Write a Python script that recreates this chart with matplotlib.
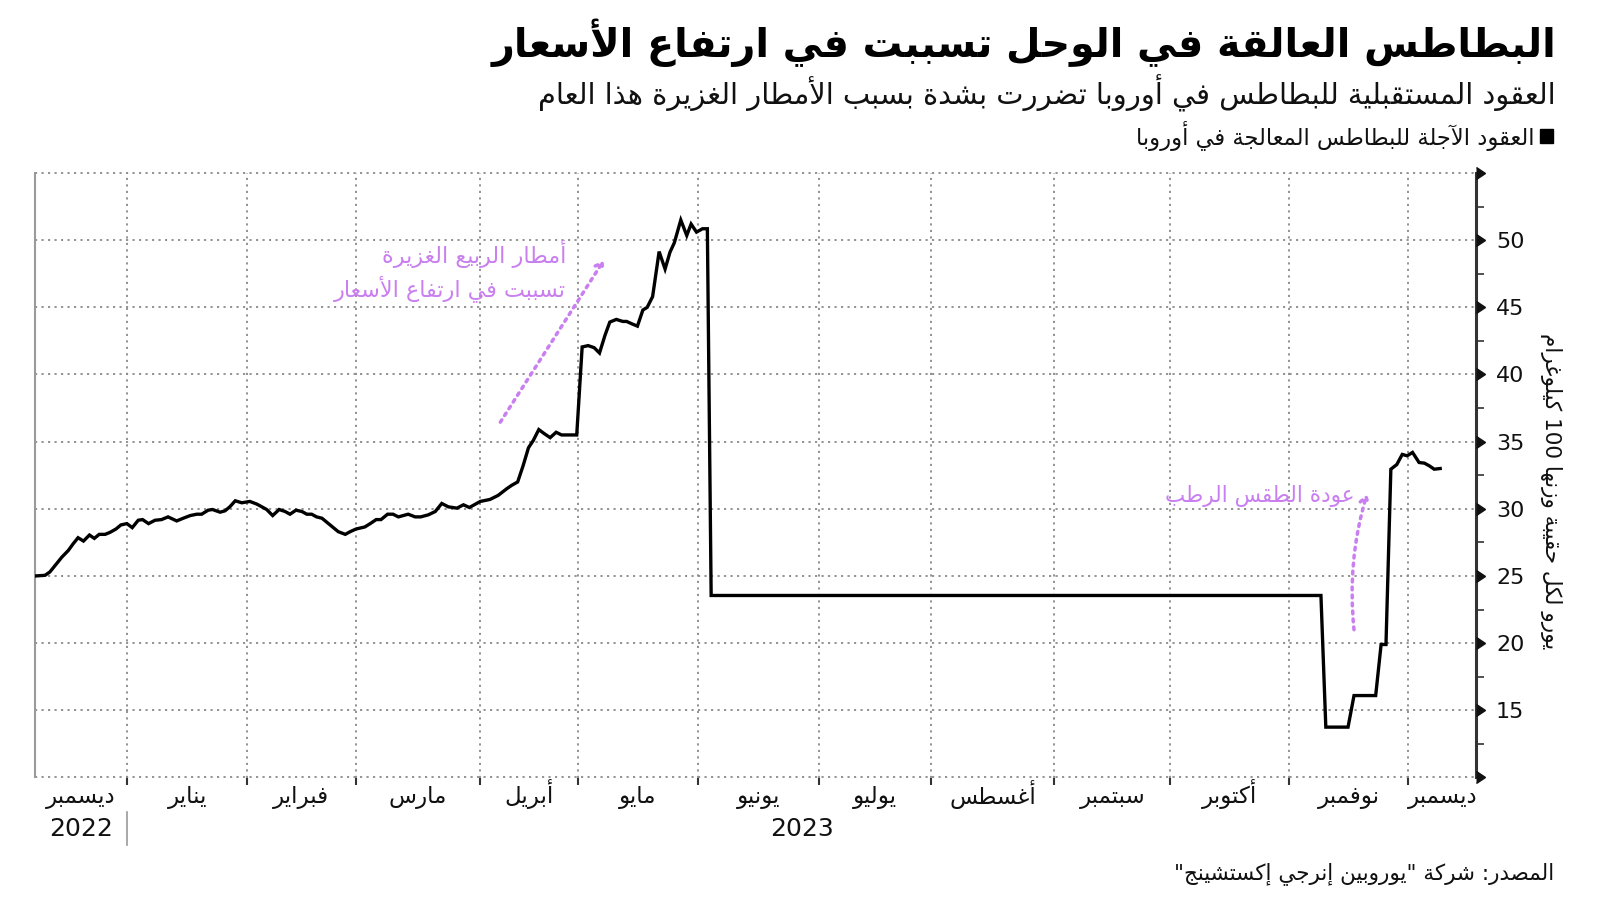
import re
import numpy as np
import matplotlib
matplotlib.use("Agg")
import matplotlib.pyplot as plt
from matplotlib import transforms

# ---------------- data (x = trading-day position from first observation) ----------------
day_pos = [0.0, 1.9, 2.8, 3.7, 5.0, 6.2, 7.1, 8.0, 9.0, 10.1, 11.0, 11.9, 13.0, 13.9, 15.0,
           15.9, 17.0, 18.0, 19.1, 19.9, 21.0, 22.2, 23.4, 24.6, 26.2, 27.4, 28.7, 29.9,
           30.8, 32.0, 32.8, 34.2, 35.1, 36.0, 37.0, 38.2, 39.7,
           41.0, 42.8, 43.9, 45.1, 46.2, 47.1, 48.2, 49.3, 50.2, 51.1, 52.0, 53.0, 54.5,
           56.0, 57.3, 58.2, 59.3, 60.9, 61.9, 63.0, 63.9, 65.1, 66.1, 67.1, 68.9, 70.2,
           71.2, 72.6, 73.9, 75.1, 76.3, 77.9, 79.1, 80.2, 82.2, 84.0,
           85.5, 87.1, 88.0, 89.1, 90.1, 91.1, 92.0, 93.0, 94.0, 95.1, 96.2, 97.2, 100.0,
           101.0, 102.1, 103.2, 104.2, 105.2, 106.1, 107.3, 108.5, 109.2, 110.3, 111.2,
           112.2, 113.0, 114.0, 115.2, 116.3, 117.2, 118.0, 119.2, 120.3, 121.1, 122.1,
           123.2, 124.1, 124.8,
           237.3, 238.2, 242.3, 243.4, 247.4, 248.4, 249.3, 250.2, 251.3, 252.3, 253.2,
           254.2, 255.4, 256.4, 257.3, 258.2, 259.3]
price = [25.0, 25.05, 25.3, 25.75, 26.4, 26.9, 27.4, 27.85, 27.6, 28.05, 27.8, 28.1, 28.1, 28.25, 28.5,
         28.8, 28.9, 28.6, 29.15, 29.2, 28.9, 29.15, 29.2, 29.4, 29.1, 29.3, 29.5, 29.6,
         29.6, 29.9, 29.95, 29.75, 29.85, 30.15, 30.6, 30.45, 30.55,
         30.35, 29.95, 29.5, 29.95, 29.8, 29.6, 29.9, 29.8, 29.6, 29.6, 29.4, 29.3, 28.8,
         28.3, 28.1, 28.3, 28.5, 28.65, 28.9, 29.2, 29.2, 29.6, 29.6, 29.4, 29.6, 29.4,
         29.4, 29.55, 29.8, 30.4, 30.15, 30.05, 30.3, 30.1, 30.55, 30.7,
         31.0, 31.5, 31.75, 32.0, 33.2, 34.55, 35.1, 35.9, 35.6, 35.3, 35.7, 35.5, 35.5,
         42.05, 42.15, 42.0, 41.6, 42.9, 43.9, 44.1, 43.95, 43.95, 43.75, 43.6,
         44.8, 45.0, 45.8, 49.15, 47.85, 49.1, 49.8, 51.5, 50.35, 51.2, 50.6,
         50.85, 50.85, 23.55,
         23.55, 13.75, 13.75, 16.1, 16.1, 19.9, 19.9, 32.95, 33.3, 34.05, 33.95,
         34.2, 33.45, 33.4, 33.2, 32.95, 33.0]

month_starts = [17.1, 39.2, 59.2, 82.1, 100.3, 122.3, 144.7, 165.3, 188.1, 209.5, 231.4, 253.4]
x_end = 266.0
month_names = ["ديسمبر", "يناير", "فبراير", "مارس", "أبريل", "مايو", "يونيو",
               "يوليو", "أغسطس", "سبتمبر", "أكتوبر", "نوفمبر", "ديسمبر"]
y_major = [10, 15, 20, 25, 30, 35, 40, 45, 50, 55]
y_labeled = [15, 20, 25, 30, 35, 40, 45, 50]
y_minor = [12.5, 17.5, 22.5, 27.5, 32.5, 37.5, 42.5, 47.5, 52.5]

title = "البطاطس العالقة في الوحل تسببت في ارتفاع الأسعار"
subtitle = "العقود المستقبلية للبطاطس في أوروبا تضررت بشدة بسبب الأمطار الغزيرة هذا العام"
legend_label = "العقود الآجلة للبطاطس المعالجة في أوروبا"
y_title = "يورو لكل حقيبة وزنها 100 كيلوغرام"
note1_lines = ["أمطار الربيع الغزيرة", "تسببت في ارتفاع الأسعار"]
note2 = "عودة الطقس الرطب"
source = 'المصدر: شركة "يوروبين إنرجي إكستشينج"'

# ---------------- minimal Arabic shaping + visual ordering ----------------
_TABLE = [('\u0621', 0xFE80, 1), ('\u0622', 0xFE81, 2), ('\u0623', 0xFE83, 2), ('\u0624', 0xFE85, 2),
          ('\u0625', 0xFE87, 2), ('\u0626', 0xFE89, 4), ('\u0627', 0xFE8D, 2), ('\u0628', 0xFE8F, 4),
          ('\u0629', 0xFE93, 2), ('\u062A', 0xFE95, 4), ('\u062B', 0xFE99, 4), ('\u062C', 0xFE9D, 4),
          ('\u062D', 0xFEA1, 4), ('\u062E', 0xFEA5, 4), ('\u062F', 0xFEA9, 2), ('\u0630', 0xFEAB, 2),
          ('\u0631', 0xFEAD, 2), ('\u0632', 0xFEAF, 2), ('\u0633', 0xFEB1, 4), ('\u0634', 0xFEB5, 4),
          ('\u0635', 0xFEB9, 4), ('\u0636', 0xFEBD, 4), ('\u0637', 0xFEC1, 4), ('\u0638', 0xFEC5, 4),
          ('\u0639', 0xFEC9, 4), ('\u063A', 0xFECD, 4), ('\u0641', 0xFED1, 4), ('\u0642', 0xFED5, 4),
          ('\u0643', 0xFED9, 4), ('\u0644', 0xFEDD, 4), ('\u0645', 0xFEE1, 4), ('\u0646', 0xFEE5, 4),
          ('\u0647', 0xFEE9, 4), ('\u0648', 0xFEED, 2), ('\u0649', 0xFEEF, 2), ('\u064A', 0xFEF1, 4)]
FORMS = {c: (b, n) for c, b, n in _TABLE}
LAMALEF = {'\u0622': 0xFEF5, '\u0623': 0xFEF7, '\u0625': 0xFEF9, '\u0627': 0xFEFB}


def shape(s):
    units = []
    i = 0
    while i < len(s):
        c = s[i]
        if c == '\u0644' and i + 1 < len(s) and s[i + 1] in LAMALEF:
            units.append((LAMALEF[s[i + 1]], 2))
            i += 2
        elif c in FORMS:
            units.append(FORMS[c])
            i += 1
        else:
            units.append((c, 0))
            i += 1
    out = []
    for k, (base, n) in enumerate(units):
        if n == 0:
            out.append(base)
            continue
        if n == 1:
            out.append(chr(base))
            continue
        pj = k > 0 and units[k - 1][1] == 4
        nj = n == 4 and k + 1 < len(units) and units[k + 1][1] >= 2
        if pj and nj:
            idx = 3
        elif pj:
            idx = 1
        elif nj:
            idx = 2
        else:
            idx = 0
        out.append(chr(base + idx))
    return ''.join(out)


def ar(s):
    sh = shape(s)
    tokens = re.findall(r'[0-9A-Za-z]+|[^0-9A-Za-z]+', sh)
    res = []
    for t in reversed(tokens):
        if re.match(r'[0-9A-Za-z]', t):
            res.append(t)
        else:
            res.append(t[::-1])
    return ''.join(res)


# ---------------- figure ----------------
AR_FONT = ['DejaVu Sans']
plt.rcParams['font.family'] = ['DejaVu Sans']
PURPLE = '#c97ff0'
GRID = '#8a8a8a'

fig = plt.figure(figsize=(16, 9.01), dpi=100)
ax = fig.add_axes([34.7 / 1600, 1 - 777.5 / 901, (1476.5 - 34.7) / 1600, (777.5 - 173) / 901])

ax.plot(day_pos, price, color='black', lw=2.4, solid_joinstyle='miter', zorder=3)

ax.set_xlim(0, x_end)
ax.set_ylim(10, 55)

# grid
for yv in y_major:
    ax.axhline(yv, color=GRID, lw=1.3, ls=(0, (1.2, 2.4)), zorder=1, clip_on=False)
for xv in month_starts:
    ax.axvline(xv, color=GRID, lw=1.3, ls=(0, (1.2, 2.4)), zorder=1)

# spines
for s in ['top', 'bottom']:
    ax.spines[s].set_visible(False)
ax.spines['left'].set_color('#9a9a9a')
ax.spines['left'].set_linewidth(1.5)
ax.spines['right'].set_color('#333333')
ax.spines['right'].set_linewidth(2.2)

# y axis on right
ax.yaxis.tick_right()
ax.set_yticks(y_major)
ax.set_yticklabels([str(v) if v in y_labeled else '' for v in y_major])
ax.set_yticks(y_minor, minor=True)
ax.tick_params(axis='y', which='major', length=0, pad=14, labelsize=16, labelcolor='#111111')
ax.tick_params(axis='y', which='minor', length=6, width=1.2, color='#333333')
ytr = transforms.blended_transform_factory(ax.transAxes, ax.transData)
ax.plot([1.0] * len(y_major), y_major, ls='none', marker=9, markersize=9,
        color='#111111', transform=ytr, clip_on=False, zorder=5)

# x axis: month boundaries as major ticks, names at month centres
edges = [0.0] + month_starts + [x_end]
centres = [(a + b) / 2 for a, b in zip(edges[:-1], edges[1:])]
ax.set_xticks(month_starts)
ax.set_xticklabels([''] * len(month_starts))
ax.tick_params(axis='x', which='major', length=5, width=1.5, color='#333333', direction='out')
xtr = transforms.blended_transform_factory(ax.transData, ax.transAxes)
for c, m in zip(centres, month_names):
    ax.text(c, -0.043, ar(m), transform=xtr, ha='center', va='baseline', fontsize=16.5,
            family=AR_FONT, color='#111111')

ax.text(centres[0], -0.085, '2022', transform=xtr, ha='center', va='center', fontsize=18, color='#111111')
ax.text((month_starts[0] + x_end) / 2, -0.085, '2023', transform=xtr, ha='center', va='center',
        fontsize=18, color='#111111')
ax.plot([month_starts[0], month_starts[0]], [-0.057, -0.112], color='#9a9a9a', lw=1.2,
        transform=xtr, clip_on=False)

# annotations
DOTS = (0, (0.8, 1.5))
ax.text(98.0, 47.7, ar(note1_lines[0]) + '\n' + ar(note1_lines[1]), ha='right', va='center',
        fontsize=16, color=PURPLE, family=AR_FONT, linespacing=1.3, multialignment='right')
ax.annotate('', xy=(105.0, 48.5), xytext=(85.9, 36.45),
            arrowprops=dict(arrowstyle='->,head_length=0.45,head_width=0.3', color=PURPLE,
                            lw=2.5, ls=DOTS, shrinkA=0, shrinkB=0))
ax.text(243.4, 30.94, ar(note2), ha='right', va='center', fontsize=15.5, color=PURPLE, family=AR_FONT)
ax.annotate('', xy=(245.8, 31.1), xytext=(243.4, 21.0),
            arrowprops=dict(arrowstyle='->,head_length=0.45,head_width=0.3', color=PURPLE,
                            lw=2.5, ls=DOTS, shrinkA=0, shrinkB=0,
                            connectionstyle='arc3,rad=-0.1'))

# titles / legend / source
fig.text(1556 / 1600, 1 - 43 / 901, ar(title), ha='right', va='center', fontsize=28.5,
         fontweight='bold', family=AR_FONT, color='black')
fig.text(1556 / 1600, 1 - 93 / 901, ar(subtitle), ha='right', va='center', fontsize=20.8,
         family=AR_FONT, color='#111111')
fig.text(1534 / 1600, 1 - 136 / 901, ar(legend_label), ha='right', va='center', fontsize=16.3,
         family=AR_FONT, color='#111111')
fig.patches.append(plt.Rectangle((1540 / 1600, 1 - 143 / 901), 13 / 1600, 14 / 901,
                                 transform=fig.transFigure, color='black'))
fig.text(1551 / 1600, 1 - 491 / 901, ar(y_title), ha='center', va='center', rotation=-90,
         fontsize=15.5, family=AR_FONT, color='#111111')
fig.text(1554 / 1600, 1 - 874 / 901, ar(source), ha='right', va='center', fontsize=15.5,
         family=AR_FONT, color='#111111')

fig.savefig('out.png', dpi=100)
